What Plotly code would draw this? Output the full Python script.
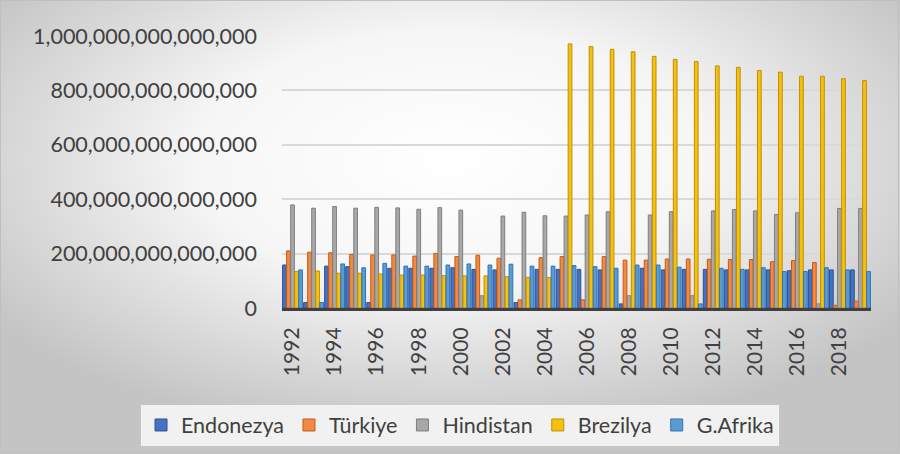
import base64
import plotly.graph_objects as go

# ---- data (values in trillions, 1e12) ----
years = ["1992", "1993", "1994", "1995", "1996", "1997", "1998", "1999", "2000",
         "2001", "2002", "2003", "2004", "2005", "2006", "2007", "2008", "2009",
         "2010", "2011", "2012", "2013", "2014", "2015", "2016", "2017", "2018", "2019"]
endonezya = [158, 20, 154, 152, 20, 146, 146, 146, 148, 142, 140, 20, 142, 142,
             142, 140, 15, 146, 140, 142, 142, 140, 140, 140, 137, 140, 140, 140]
turkiye = [210, 205, 203, 197, 195, 195, 191, 201, 189, 194, 183, 30, 185, 189,
           30, 189, 176, 176, 180, 180, 179, 178, 178, 170, 174, 167, 10, 25]
hindistan = [379, 367, 373, 367, 370, 368, 363, 369, 360, 45, 338, 352, 339, 338,
             342, 354, 45, 342, 354, 45, 357, 362, 357, 344, 350, 15, 366, 366]
brezilya = [134, 136, 128, 128, 125, 121, 121, 119, 118, 118, 115, 113, 112, 971,
            961, 951, 942, 925, 914, 906, 890, 885, 873, 867, 852, 852, 843, 836]
gafrika = [140, 20, 162, 148, 164, 154, 154, 158, 162, 158, 161, 154, 154, 156,
           152, 146, 158, 158, 150, 15, 146, 142, 148, 134, 134, 148, 140, 134]

series_names = ["Endonezya", "Türkiye", "Hindistan", "Brezilya", "G.Afrika"]
series_values = [endonezya, turkiye, hindistan, brezilya, gafrika]
fill_colors = ["#4472C4", "#F08A45", "#A8A8A8", "#F5C00F", "#5B9BD5"]
line_colors = ["#2F528F", "#C55A11", "#7F7F7F", "#BF9000", "#2E75B6"]

y_tickvals = [0, 200e12, 400e12, 600e12, 800e12, 1000e12]
y_ticktext = ["0", "200,000,000,000,000", "400,000,000,000,000",
              "600,000,000,000,000", "800,000,000,000,000", "1,000,000,000,000,000"]
x_tickvals = years[::2]

# ---- figure ----
W, H = 900, 454
ML, MR, MT, MB = 282, 29, 36, 146
PW, PH = W - ML - MR, H - MT - MB

fig = go.Figure()
for name, vals, fc, lc in zip(series_names, series_values, fill_colors, line_colors):
    fig.add_trace(go.Bar(
        x=years, y=[v * 1e12 for v in vals], name=name,
        marker=dict(color=fc, line=dict(color=lc, width=1)),
    ))

svg = f'''<svg xmlns="http://www.w3.org/2000/svg" width="{W}" height="{H}" viewBox="0 0 {W} {H}">
<defs><radialGradient id="g" cx="0.5" cy="0.35" r="0.62" gradientUnits="objectBoundingBox">
<stop offset="0" stop-color="#ffffff"/><stop offset="0.45" stop-color="#f6f6f6"/>
<stop offset="1" stop-color="#c4c4c4"/></radialGradient></defs>
<rect x="0" y="0" width="{W}" height="{H}" fill="url(#g)"/>
<rect x="0.5" y="0.5" width="{W-2}" height="{H-2}" fill="none" stroke="#bfbfbf" stroke-width="1"/>
</svg>'''
src = "data:image/svg+xml;base64," + base64.b64encode(svg.encode()).decode()

font_family = "Lato, 'Open Sans', sans-serif"
fig.update_layout(
    width=W, height=H,
    margin=dict(l=ML, r=MR, t=MT, b=MB, pad=0, autoexpand=False),
    paper_bgcolor="white", plot_bgcolor="rgba(0,0,0,0)",
    barmode="group", bargap=0.04, bargroupgap=0.08,
    font=dict(family=font_family, color="#404040", size=21),
    showlegend=True,
    legend=dict(orientation="h", xref="paper", yref="paper",
                x=(141 - ML) / PW, xanchor="left", y=-(425 - (MT + PH)) / PH, yanchor="middle",
                bgcolor="#f1f1f1", font=dict(size=21.5, color="#404040"),
                itemwidth=30, traceorder="normal"),
    images=[dict(source=src, xref="paper", yref="paper",
                 x=-ML / PW, y=1 + MT / PH, sizex=W / PW, sizey=H / PH,
                 xanchor="left", yanchor="top", sizing="stretch", layer="below")],
)
fig.update_xaxes(type="category", tickmode="array", tickvals=x_tickvals, ticktext=x_tickvals,
                 tickangle=-90, showgrid=False, showline=True, linecolor="#404040",
                 linewidth=3, ticks="", ticklabelstandoff=8, automargin=False,
                 tickfont=dict(size=21, color="#404040"))
fig.update_yaxes(range=[0, 1000e12], tickmode="array", tickvals=y_tickvals, ticktext=y_ticktext,
                 showgrid=True, gridcolor="#d9d9d9", gridwidth=2, zeroline=False,
                 ticks="", ticklabelstandoff=24, automargin=False,
                 tickfont=dict(size=21.5, color="#404040"))

fig.write_html("out.html", config={"displayModeBar": False},
               post_script="document.body.style.margin='0';document.body.style.overflow='hidden';")
